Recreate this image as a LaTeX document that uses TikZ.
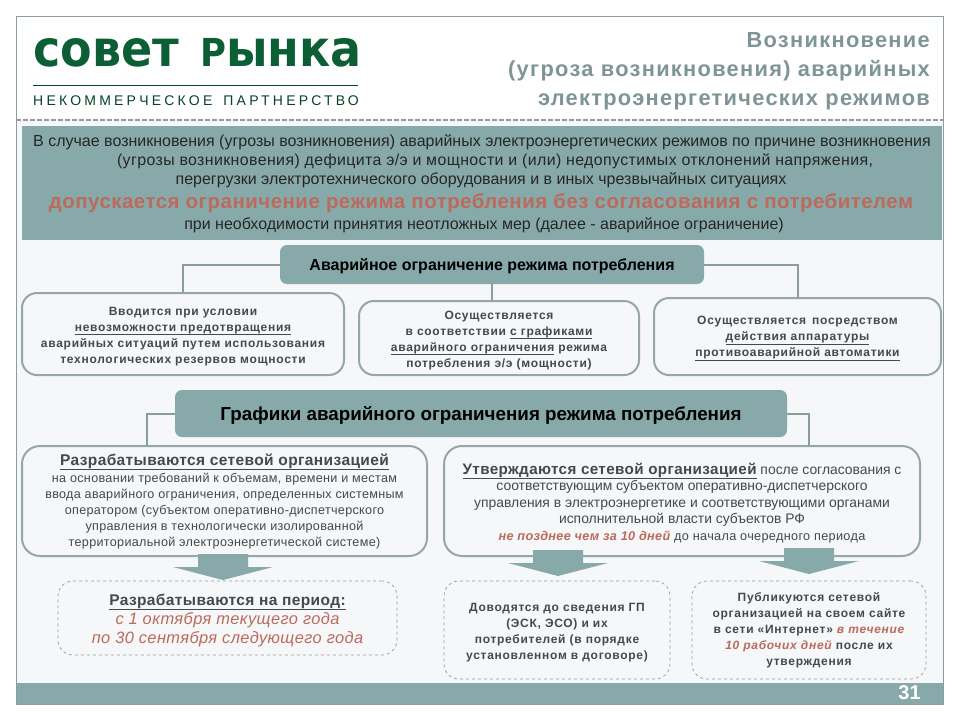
\documentclass[tikz,border=0pt]{standalone}
\usepackage{fontspec}
\setmainfont{Liberation Sans}
\newfontfamily\spreadfont[LetterSpace=6]{Liberation Sans}
\newfontfamily\widefont[LetterSpace=2.5]{Liberation Sans}
\newfontfamily\logofont{DejaVu Sans}
\newfontfamily\partnerfont[LetterSpace=23]{Liberation Sans}
\usepackage{xcolor}
\definecolor{bandteal}{HTML}{87A9A9}
\definecolor{framegray}{HTML}{8C9D9D}
\definecolor{pagemist}{HTML}{F5F7F8}
\definecolor{logogreen}{HTML}{0C5E35}
\definecolor{titlegray}{HTML}{7F9595}
\definecolor{alertred}{HTML}{BC6A5C}
\definecolor{inkgray}{HTML}{44484F}
\newcommand{\dropline}[1]{\rule{0pt}{#1pt}}
\newcommand{\lined}[1]{\underline{\smash{#1}\rule[-2pt]{0pt}{2pt}}}
\tikzset{
 hdrbox/.style={fill=bandteal,rounded corners=7,inner sep=0,text=black},
 softbox/.style={draw=framegray!90,line width=2,fill=pagemist,rounded corners=15,inner sep=0,align=center,text=inkgray},
 dashbox/.style={draw=gray!80,dashed,line width=0.7,rounded corners=15,inner sep=0,align=center,text=inkgray},
 linkline/.style={draw=framegray,line width=2},
 titleline/.style={anchor=base east,inner sep=0,text=titlegray,font=\spreadfont\bfseries\fontsize{21.8}{24}\selectfont},
 bandline/.style={anchor=base,inner sep=0,text=black!85,font=\fontsize{16}{18}\selectfont},
}
\begin{document}
\begin{tikzpicture}[x=1pt,y=-1pt]
 \useasboundingbox (0,0) rectangle (960,720);
 \fill[white] (0,0) rectangle (960,720);
 \fill[pagemist] (16,120) rectangle (943,704);
 \fill[bandteal] (22,126) rectangle (942,240);
 \fill[bandteal] (16,683) rectangle (943,704);
 \draw[framegray,line width=1] (16,16) rectangle (943,704);
 \draw[gray!80,line width=1.3,dash pattern=on 5 off 2] (16,120)--(943,120);
 % logo
 \node[anchor=base west,inner sep=0,text=logogreen,font=\logofont\bfseries\fontsize{50}{50}\selectfont] (logo) at (33,66) {\scalebox{0.92}[1]{совет\hspace{23pt}{\fontsize{38.5}{40}\selectfont Р}ынка}};
 \draw[logogreen!70!black,line width=0.8] (33,85)--(358,85);
 \node[anchor=base west,inner sep=0,text=logogreen!70!black,font=\partnerfont\fontsize{14}{14}\selectfont] (partner) at (33,105) {НЕКОММЕРЧЕСКОЕ\hspace{11pt}ПАРТНЕРСТВО};
 % title
 \node[titleline] (titlea) at (930,47) {Возникновение};
 \node[titleline] (titleb) at (930,76) {(угроза возникновения) аварийных};
 \node[titleline] (titlec) at (930,105) {электроэнергетических режимов};
 % band
 \node[bandline] (banda) at (482,146) {В случае возникновения (угрозы возникновения) аварийных электроэнергетических режимов по причине возникновения};
 \node[bandline,font=\widefont\fontsize{15.9}{18}\selectfont] (bandb) at (495,165) {(угрозы возникновения) дефицита э/э и мощности и (или) недопустимых отклонений напряжения,};
 \node[bandline] (bandc) at (481,184) {перегрузки электротехнического оборудования и в иных чрезвычайных ситуациях};
 \node[anchor=base,inner sep=0,text=alertred,font=\widefont\bfseries\fontsize{20.4}{22}\selectfont] (bandd) at (481,208) {допускается ограничение режима потребления без согласования с потребителем};
 \node[bandline] (bande) at (484,229) {при необходимости принятия неотложных мер (далее - аварийное ограничение)};
 % first level
 \node[hdrbox,minimum width=424,minimum height=39,text height=14,text depth=2.6,font=\bfseries\fontsize{16}{18}\selectfont] (limit) at (492,264.5) {Аварийное ограничение режима потребления};
 \node[softbox,minimum width=322,minimum height=82,font=\spreadfont\bfseries\fontsize{12}{16}\selectfont] (limita) at (183,334) {\dropline{12.5}Вводится при условии\\ \lined{невозможности предотвращения}\\ аварийных ситуаций путем использования\\ технологических резервов мощности};
 \node[softbox,minimum width=280,minimum height=74,font=\spreadfont\bfseries\fontsize{12}{16}\selectfont] (limitb) at (499,338) {\dropline{12.5}Осуществляется\\ в соответствии \lined{с графиками}\\ \lined{аварийного ограничения} режима\\ потребления э/э (мощности)};
 \node[softbox,minimum width=287,minimum height=77,font=\spreadfont\bfseries\fontsize{12}{16}\selectfont] (limitc) at (797.5,336.5) {\dropline{12.5}Осуществляется\hspace{2pt} посредством\\ \lined{действия аппаратуры}\\ \lined{противоаварийной автоматики}};
 \draw[linkline] (limit.west) -| (limita.north);
 \draw[linkline] (limit.south) -- (limit.south |- limitb.north);
 \draw[linkline] (limit.east) -| (limitc.north);
 % second level
 \node[hdrbox,minimum width=612,minimum height=47,text height=15,text depth=2,font=\bfseries\fontsize{18.8}{20}\selectfont] (sched) at (481,413.5) {Графики аварийного ограничения режима потребления};
 \node[softbox,minimum width=405,minimum height=110,font=\widefont\fontsize{12.6}{16.2}\selectfont,rounded corners=18] (scheda) at (224.5,501) {\dropline{13.5}{\widefont\bfseries\fontsize{15.5}{16}\selectfont\lined{Разрабатываются сетевой организацией}}\\ на основании требований к объемам, времени и местам\\ ввода аварийного ограничения, определенных системным\\ оператором (субъектом оперативно-диспетчерского\\ управления в технологически изолированной\\ территориальной электроэнергетической системе)};
 \node[softbox,minimum width=476,minimum height=110,font=\fontsize{13.9}{16.5}\selectfont,rounded corners=18] (schedb) at (682,501) {\dropline{15.3}{\widefont\bfseries\fontsize{15.2}{16}\selectfont\lined{Утверждаются сетевой организацией}} после согласования с\\ соответствующим субъектом оперативно-диспетчерского\\ управления в электроэнергетике и соответствующими органами\\ исполнительной власти субъектов РФ\\ {\widefont\fontsize{12.7}{16}\selectfont\textcolor{alertred}{\bfseries\itshape не позднее чем за 10 дней} до начала очередного периода}};
 \coordinate (joina) at (147,446);
 \coordinate (joinb) at (809,446);
 \draw[linkline] (sched.west) -| (joina);
 \draw[linkline] (sched.east) -| (joinb);
 % block arrows
 \foreach \ax/\ay in {223/554,558/550,809/548} {
  \fill[bandteal] (\ax-25,\ay) -- (\ax+25,\ay) -- (\ax+25,\ay+13) -- (\ax+50,\ay+13)
   -- (\ax,\ay+26) -- (\ax-50,\ay+13) -- (\ax-25,\ay+13) -- cycle;}
 % third level
 \node[dashbox,minimum width=339,minimum height=74,font=\fontsize{16.4}{19}\selectfont] (perioda) at (227.5,618) {\dropline{16}{\fontsize{15.5}{19}\selectfont\widefont\bfseries\lined{Разрабатываются на период:}}\\ \textcolor{alertred}{\widefont\itshape с 1 октября текущего года}\\ \textcolor{alertred}{\widefont\itshape по 30 сентября следующего года}};
 \node[dashbox,minimum width=226,minimum height=98,font=\spreadfont\bfseries\fontsize{12}{16}\selectfont] (periodb) at (557,630) {\dropline{12.5}Доводятся до сведения ГП\\ (ЭСК, ЭСО) и их\\ потребителей (в порядке\\ установленном в договоре)};
 \node[dashbox,minimum width=234,minimum height=98,font=\spreadfont\bfseries\fontsize{12}{16}\selectfont] (periodc) at (809,630) {\dropline{10}Публикуются сетевой\\ организацией на своем сайте\\ в сети «Интернет» \textcolor{alertred}{\itshape в течение}\\ \textcolor{alertred}{\itshape 10 рабочих дней} после их\\ утверждения};
 \node[text=white,font=\bfseries\fontsize{20}{20}\selectfont] (pagenum) at (909.5,693) {31};
\end{tikzpicture}
\end{document}
